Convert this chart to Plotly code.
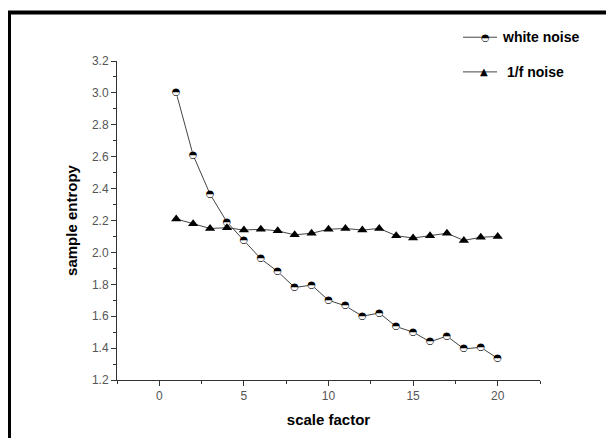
import plotly.graph_objects as go

# ---- data ----
scale_factor = list(range(1, 21))
white_noise = [3.00, 2.61, 2.365, 2.19, 2.075, 1.96, 1.88, 1.78, 1.795, 1.70,
               1.665, 1.60, 1.62, 1.535, 1.50, 1.44, 1.475, 1.395, 1.405, 1.335]
pink_noise = [2.21, 2.18, 2.15, 2.155, 2.14, 2.145, 2.135, 2.11, 2.12, 2.145,
              2.15, 2.14, 2.15, 2.105, 2.09, 2.105, 2.12, 2.075, 2.095, 2.10]

OFF = 8  # page body margin
W, H = 614 - OFF, 438 - OFF
L, T = 117 - OFF, 61 - OFF
R, B = W - (540 - OFF), H - (383 - OFF)
pw, ph = W - L - R, H - T - B


# positions given in window pixels of the reference -> paper coords
def px_x(x):
    return (x - OFF - L) / pw


def px_y(y):
    return 1 - (y - OFF - T) / ph


line_col = "#444444"
font = "Liberation Sans, Arial, sans-serif"

fig = go.Figure()

# white noise: line, white disc, then half-filled circle glyph on top
fig.add_trace(go.Scatter(x=scale_factor, y=white_noise, mode="lines",
                         line=dict(color=line_col, width=1), showlegend=False))
fig.add_trace(go.Scatter(x=scale_factor, y=white_noise, mode="markers",
                         marker=dict(symbol="circle", size=7, color="white",
                                     line=dict(width=0)),
                         showlegend=False))
fig.add_trace(go.Scatter(x=scale_factor, y=white_noise, mode="text", text=["◓"] * 20,
                         textposition="middle center",
                         textfont=dict(family="DejaVu Sans", size=10, color="black"),
                         showlegend=False))

# 1/f noise
fig.add_trace(go.Scatter(x=scale_factor, y=pink_noise, mode="lines+markers",
                         line=dict(color=line_col, width=1),
                         marker=dict(symbol="triangle-up", size=9, color="black"),
                         showlegend=False))

shapes = [
    # frame (left + top only)
    dict(type="line", xref="paper", yref="paper", x0=px_x(9), x1=px_x(9),
         y0=px_y(12), y1=px_y(450), line=dict(color="black", width=4)),
    dict(type="line", xref="paper", yref="paper", x0=px_x(7), x1=px_x(630),
         y0=px_y(12), y1=px_y(12), line=dict(color="black", width=4)),
    # legend lines
    dict(type="line", xref="paper", yref="paper", x0=px_x(463), x1=px_x(497),
         y0=px_y(37), y1=px_y(37), line=dict(color=line_col, width=1)),
    dict(type="line", xref="paper", yref="paper", x0=px_x(463), x1=px_x(497),
         y0=px_y(72), y1=px_y(72), line=dict(color=line_col, width=1)),
    dict(type="circle", xref="paper", yref="paper", x0=px_x(481.5), x1=px_x(488.5),
         y0=px_y(40.5), y1=px_y(33.5), fillcolor="white", line=dict(width=0)),
]

annotations = [
    dict(x=px_x(485), y=px_y(37), xref="paper", yref="paper", text="◓",
         showarrow=False, xanchor="center", yanchor="middle",
         font=dict(family="DejaVu Sans", size=10, color="black")),
    dict(x=px_x(484), y=px_y(72), xref="paper", yref="paper", text="▲",
         showarrow=False, xanchor="center", yanchor="middle",
         font=dict(family="DejaVu Sans", size=10, color="black")),
    dict(x=px_x(500), y=px_y(37), xref="paper", yref="paper", text="<b>white noise</b>",
         showarrow=False, xanchor="left", yanchor="middle",
         font=dict(family=font, size=14, color="black")),
    dict(x=px_x(505), y=px_y(72), xref="paper", yref="paper", text="<b>1/f noise</b>",
         showarrow=False, xanchor="left", yanchor="middle",
         font=dict(family=font, size=14, color="black")),
]

fig.update_layout(
    width=W, height=H,
    margin=dict(l=L, r=R, t=T, b=B),
    paper_bgcolor="white", plot_bgcolor="white",
    font=dict(family=font, color="#444444"),
    shapes=shapes, annotations=annotations,
    xaxis=dict(range=[-2.5, 22.5], tick0=0, dtick=5, ticks="outside", ticklen=5,
               tickcolor="#333", showline=True, linecolor="#333", linewidth=1,
               showgrid=False, zeroline=False,
               minor=dict(ticks="outside", dtick=2.5, ticklen=3, tickcolor="#333"),
               tickfont=dict(size=12, color="#555"),
               title=dict(text="<b>scale factor</b>", standoff=12,
                          font=dict(size=15, color="black"))),
    yaxis=dict(range=[1.2, 3.2], tick0=1.2, dtick=0.2, tickformat=".1f",
               ticks="outside", ticklen=5, tickcolor="#333",
               showline=True, linecolor="#333", linewidth=1,
               showgrid=False, zeroline=False,
               minor=dict(ticks="outside", dtick=0.1, ticklen=3, tickcolor="#333"),
               tickfont=dict(size=12, color="#555"),
               title=dict(text="<b>sample entropy</b>", standoff=10,
                          font=dict(size=15, color="black"))),
)

fig.write_html("out.html")
